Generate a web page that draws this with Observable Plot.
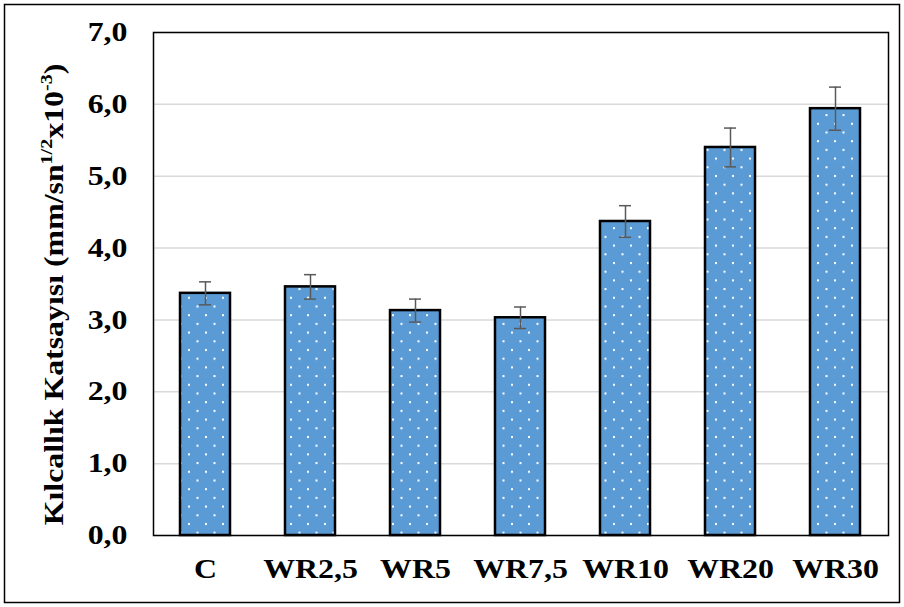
<!DOCTYPE html>
<html><head><meta charset="utf-8">
<script src="https://cdn.jsdelivr.net/npm/d3@7"></script>
<script src="https://cdn.jsdelivr.net/npm/@observablehq/plot@0.6"></script>
<style>body{margin:0;background:#fff}</style>
</head><body><div id="chart"></div>
<script>
const categories = ["C", "WR2,5", "WR5", "WR7,5", "WR10", "WR20", "WR30"];
const values = [3.37, 3.46, 3.13, 3.03, 4.37, 5.40, 5.94];
const errors = [0.16, 0.17, 0.16, 0.15, 0.22, 0.27, 0.30];
const yTicks = [0, 1, 2, 3, 4, 5, 6, 7];

const data = categories.map((c, i) => ({cat: c, v: values[i], e: errors[i]}));
const fmt = d => d.toFixed(1).replace(".", ",");
const font = "'Liberation Serif', 'Times New Roman', serif";
const STRETCH = 1.18;

const plot = Plot.plot({
  width: 904,
  height: 607,
  marginLeft: 153,
  marginRight: 16,
  marginTop: 32,
  marginBottom: 72,
  style: {fontFamily: font, fontWeight: "bold", fontSize: "27px", color: "black", background: "white"},
  x: {domain: categories, paddingInner: 0.52, paddingOuter: 0.26, label: null, tickSize: 0, tickPadding: 23},
  y: {domain: [0, 7], ticks: yTicks, tickFormat: fmt, label: null, tickSize: 0, tickPadding: 26},
  marks: [
    Plot.ruleY(yTicks, {stroke: "#d9d9d9", strokeWidth: 1.5}),
    Plot.barY(data, {x: "cat", y: "v", fill: "#5b9bd5"}),
    Plot.barY(data, {x: "cat", y: "v", fill: "url(#dots)", stroke: "black", strokeWidth: 2.5}),
    Plot.ruleX(data, {x: "cat", y1: d => d.v - d.e, y2: d => d.v + d.e, stroke: "#595959", strokeWidth: 1.5}),
    Plot.tickY(data, {x: "cat", y: d => d.v + d.e, stroke: "#595959", strokeWidth: 1.5, insetLeft: 19, insetRight: 19}),
    Plot.tickY(data, {x: "cat", y: d => d.v - d.e, stroke: "#595959", strokeWidth: 1.5, insetLeft: 19, insetRight: 19}),
    Plot.frame({stroke: "black", strokeWidth: 1.5})
  ]
});

const svg = d3.select(plot);
const defs = svg.insert("defs", ":first-child");
const pat = defs.append("pattern").attr("id", "dots").attr("patternUnits", "userSpaceOnUse")
  .attr("width", 17).attr("height", 17.4);
pat.append("rect").attr("x", 1).attr("y", 1).attr("width", 2).attr("height", 2).attr("fill", "white");
pat.append("rect").attr("x", 9.5).attr("y", 9.7).attr("width", 2).attr("height", 2).attr("fill", "white");

// widen tick labels horizontally like the reference rendering
svg.selectAll('g[aria-label="x-axis tick label"] text, g[aria-label="y-axis tick label"] text')
  .each(function() {
    const tr = this.getAttribute("transform") || "";
    this.setAttribute("transform", tr + ` scale(${STRETCH},1)`);
  });

// outer border
svg.append("rect").attr("x", 4.5).attr("y", 4.5).attr("width", 895).attr("height", 598)
  .attr("fill", "none").attr("stroke", "black").attr("stroke-width", 1.5);

// y-axis title with superscripts
const t = svg.append("text")
  .attr("transform", `translate(63,294.5) rotate(-90) scale(${STRETCH},1)`)
  .attr("text-anchor", "middle")
  .attr("font-family", font).attr("font-weight", "bold").attr("font-size", 27).attr("fill", "black");
t.append("tspan").text("Kılcallık Katsayısı (mm/sn");
t.append("tspan").attr("font-size", 17).attr("dy", -11).text("1/2");
t.append("tspan").attr("dy", 11).text("x10");
t.append("tspan").attr("font-size", 17).attr("dy", -11).text("-3");
t.append("tspan").attr("dy", 11).text(")");

document.getElementById("chart").appendChild(plot);
</script>
</body></html>
